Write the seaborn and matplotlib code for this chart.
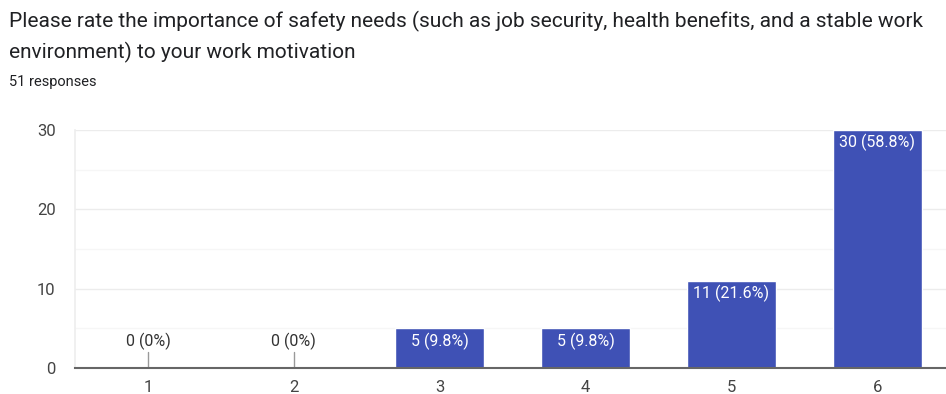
import numpy as np
import pandas as pd
import seaborn as sns
import matplotlib.pyplot as plt

ratings = ["1", "2", "3", "4", "5", "6"]
counts = [0, 0, 5, 5, 11, 30]
pct_labels = ["0 (0%)", "0 (0%)", "5 (9.8%)", "5 (9.8%)", "11 (21.6%)", "30 (58.8%)"]

title = ("Please rate the importance of safety needs (such as job security, health benefits, and a stable work\n"
         "environment) to your work motivation")
subtitle = "51 responses"

sns.set_theme(style="white")
plt.rcParams["font.family"] = ["Roboto", "DejaVu Sans"]

df = pd.DataFrame({"rating": ratings, "count": counts})

fig = plt.figure(figsize=(9.46, 3.94), dpi=100)
ax = fig.add_axes([0.0793, 0.066, 0.925, 0.604])

sns.barplot(data=df, x="rating", y="count", order=ratings, color="#3f51b5",
            saturation=1, width=0.61, ax=ax)

ax.set_xlim(-0.5, 5.5)
ax.set_ylim(0, 30)
ax.set_yticks([0, 10, 20, 30])
for v in [5, 15, 25]:
    ax.axhline(v, color="#f6f6f6", lw=1, zorder=0)
for v in [10, 20, 30]:
    ax.axhline(v, color="#ececec", lw=1, zorder=0)

for s in ["top", "right"]:
    ax.spines[s].set_visible(False)
ax.spines["left"].set_color("#eeeeee")
ax.spines["bottom"].set_color("#666666")
ax.spines["bottom"].set_linewidth(1.5)
ax.spines["bottom"].set_zorder(5)

ax.set_xlabel("")
ax.set_ylabel("")
ax.tick_params(axis="both", length=0, labelsize=12, colors="#444444")
ax.tick_params(axis="y", pad=14)
ax.tick_params(axis="x", pad=9)

for i, (c, lab) in enumerate(zip(counts, pct_labels)):
    if c == 0:
        ax.plot([i, i], [0, 2], color="#999999", lw=1)
        ax.text(i, 2.3, lab, ha="center", va="bottom", fontsize=11.5, color="#333333")
    else:
        ax.text(i, c - 0.5, lab, ha="center", va="top", fontsize=11.5, color="white")

fig.text(0.009, 0.972, title, ha="left", va="top", fontsize=15, color="#202124",
         linespacing=1.6)
fig.text(0.009, 0.792, subtitle, ha="left", va="center", fontsize=10.5, color="#202124")

fig.savefig("out.png", dpi=100)
